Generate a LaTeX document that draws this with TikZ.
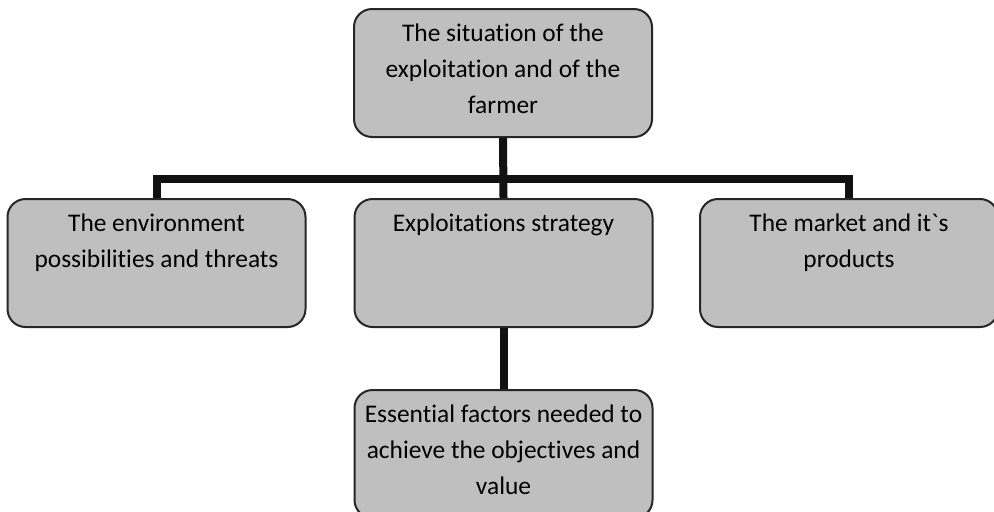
\documentclass[tikz,border=0pt]{standalone}
\usepackage{fontspec}
\setmainfont{Carlito}[Ligatures={TeXOff,NoCommon}]
\usetikzlibrary{positioning}
\definecolor{boxgray}{HTML}{BFBFBF}
\definecolor{boxline}{HTML}{262626}
\definecolor{barblack}{HTML}{111111}
% text sits at the top of every box
\newcommand{\stagetext}[1]{\parbox[c][64pt][t]{149pt}{\centering\rule{0pt}{16.25pt}#1}}
\tikzset{
  stage/.style={draw=boxline, fill=boxgray, rounded corners=9pt, line width=1pt,
    inner sep=0pt, font=\fontsize{12.7}{18}\selectfont, text=black},
  link/.style={draw=barblack, line width=4pt},
}

\begin{document}
\begin{tikzpicture}[x=0.5pt,y=-0.5pt]
  \clip (0,0) rectangle (994,511);
  \node[stage] (situation) at (503,73) {\stagetext{The situation of the\\exploitation and of the\\farmer}};
  \node[stage] (environment) at (156.5,263) {\stagetext{The environment\\possibilities and threats}};
  \node[stage] (strategy) at (503.5,263) {\stagetext{Exploitations strategy}};
  \node[stage] (market) at (849,263) {\stagetext{The market and it`s\\products}};
  \node[stage] (factors) at (503.5,454) {\stagetext{Essential factors needed to\\achieve the objectives and\\value}};
  \coordinate (bar) at (503,179);
  \draw[link] (situation.south) -- (strategy.north);
  \draw[link] (environment.north) |- (bar) -| (market.north);
  \draw[link] (strategy.south) -- (factors.north);
\end{tikzpicture}
\end{document}
